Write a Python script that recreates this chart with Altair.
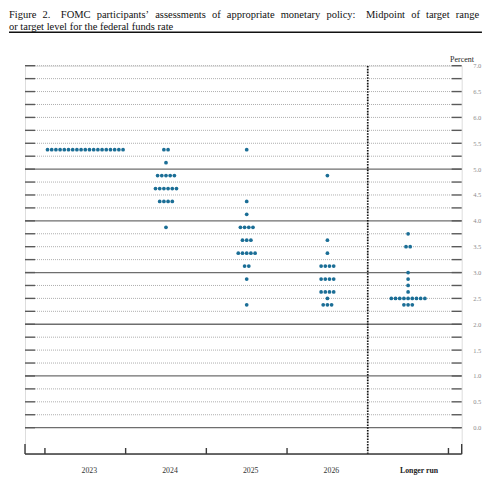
import altair as alt
import pandas as pd

# ---------------- data ----------------
years = ["2023", "2024", "2025", "2026", "Longer run"]

levels_2023 = [5.375]
counts_2023 = [19]

levels_2024 = [5.375, 5.125, 4.875, 4.625, 4.375, 3.875]
counts_2024 = [2, 1, 5, 6, 4, 1]

levels_2025 = [5.375, 4.375, 4.125, 3.875, 3.625, 3.375, 3.125, 2.875, 2.375]
counts_2025 = [1, 1, 1, 4, 3, 5, 2, 1, 1]

levels_2026 = [4.875, 3.625, 3.375, 3.125, 2.875, 2.625, 2.5, 2.375]
counts_2026 = [1, 1, 1, 4, 4, 4, 1, 3]

levels_lr = [3.75, 3.5, 3.0, 2.875, 2.75, 2.625, 2.5, 2.375]
counts_lr = [1, 2, 1, 1, 1, 1, 9, 3]

axis_labels = [0.0, 0.5, 1.0, 1.5, 2.0, 2.5, 3.0, 3.5, 4.0, 4.5, 5.0, 5.5, 6.0, 6.5, 7.0]
grid_levels = [i * 0.25 for i in range(29)]
solid_levels = [0, 1, 2, 3, 4, 5]

# first title line is justified in the original: widen the word gaps
_gap = "\u2002\u200a"
_big = "\u2003"
title_line1 = _gap.join(["Figure", "2."]) + _big + _gap.join(
    ["FOMC", "participants\u2019", "assessments", "of", "appropriate", "monetary", "policy:"]
) + _big + _gap.join(["Midpoint", "of", "target", "range"])
title_lines = [title_line1, "or target level for the federal funds rate"]

# ---------------- layout constants ----------------
X_MIN, X_MAX = -0.747, 4.664          # plot edges in column units
DASH_IN_L, DASH_IN_R = -0.623, 4.540  # end of short edge dashes
Y_MIN, Y_MAX = -0.509, 7.0
DOT_STEP = 0.052                       # horizontal spacing between dots (column units)
DOT_COLOR = "#1b6e96"
SERIF = "Liberation Serif"

# ---------------- tables ----------------
cols = [
    (levels_2023, counts_2023),
    (levels_2024, counts_2024),
    (levels_2025, counts_2025),
    (levels_2026, counts_2026),
    (levels_lr, counts_lr),
]
dots = []
for ci, (lv, cn) in enumerate(cols):
    for level, n in zip(lv, cn):
        for k in range(n):
            dots.append({"x": ci + (k - (n - 1) / 2) * DOT_STEP, "y": level, "year": years[ci]})
dots_df = pd.DataFrame(dots)

dotted_df = pd.DataFrame({"y": [g for g in grid_levels if g not in solid_levels],
                          "x": DASH_IN_L, "x2": DASH_IN_R})
solid_df = pd.DataFrame({"y": solid_levels, "x": X_MIN, "x2": X_MAX})
edge_df = pd.DataFrame(
    [{"y": g, "x": X_MIN, "x2": DASH_IN_L} for g in grid_levels]
    + [{"y": g, "x": DASH_IN_R, "x2": X_MAX} for g in grid_levels]
)
divider_df = pd.DataFrame({"x": [3.5], "y": [Y_MIN], "y2": [Y_MAX]})
base_df = pd.DataFrame({"x": [X_MIN], "x2": [X_MAX], "y": [Y_MIN]})
tick_df = pd.DataFrame({
    "x": [X_MIN, -0.5, 0.5, 1.5, 2.5, 4.5, X_MAX],
    "y": [Y_MIN] * 7,
    "y2": [Y_MIN + 0.193, Y_MIN + 0.116, Y_MIN + 0.116, Y_MIN + 0.116,
           Y_MIN + 0.116, Y_MIN + 0.116, Y_MIN + 0.193],
})
year_df = pd.DataFrame({"x": [0, 1, 2, 3], "y": [-0.832] * 4, "label": years[:4]})
lr_df = pd.DataFrame({"x": [4], "y": [-0.832], "label": [years[4]]})
percent_df = pd.DataFrame({"x": [4.817], "y": [7.077], "label": ["Percent"]})
title_rule_df = pd.DataFrame({"x": [-0.945], "x2": [4.915], "y": [7.645]})

# ---------------- encodings ----------------
xscale = alt.Scale(domain=[X_MIN, X_MAX], nice=False, zero=False)
yscale = alt.Scale(domain=[Y_MIN, Y_MAX], nice=False, zero=False)
yaxis = alt.Axis(orient="right", values=axis_labels, format=".1f", title=None,
                 ticks=False, domain=False, grid=False, labelPadding=11,
                 labelFont=SERIF, labelFontSize=6.5, labelColor="#8c8c8c")


def X(f="x"):
    return alt.X(f + ":Q", scale=xscale, axis=None)


def Y(f="y"):
    return alt.Y(f + ":Q", scale=yscale, axis=yaxis)


dotted = alt.Chart(dotted_df).mark_rule(color="#9a9a9a", strokeWidth=0.8, strokeDash=[1, 1]).encode(
    x=X(), x2="x2", y=Y())
solid = alt.Chart(solid_df).mark_rule(color="#6e6e6e", strokeWidth=1.3).encode(
    x=X(), x2="x2", y=Y())
edges = alt.Chart(edge_df).mark_rule(color="#5a5a5a", strokeWidth=1.4).encode(
    x=X(), x2="x2", y=Y())
divider = alt.Chart(divider_df).mark_rule(color="#111111", strokeWidth=1.7, strokeDash=[1.6, 1.2]).encode(
    x=X(), y=Y(), y2="y2")
baseline = alt.Chart(base_df).mark_rule(color="#3a3a3a", strokeWidth=1.6).encode(
    x=X(), x2="x2", y=Y())
ticks = alt.Chart(tick_df).mark_rule(color="#3a3a3a", strokeWidth=1.4).encode(
    x=X(), y=Y(), y2="y2")
points = alt.Chart(dots_df).mark_circle(size=14, opacity=1, color=DOT_COLOR).encode(
    x=X(), y=Y())
year_text = alt.Chart(year_df).mark_text(font=SERIF, fontSize=7.8, color="#333333", dx=4,
                                         baseline="middle").encode(x=X(), y=Y(), text="label:N")
lr_text = alt.Chart(lr_df).mark_text(font=SERIF, fontSize=7.8, fontWeight="bold", color="#222222",
                                     dx=11, baseline="middle").encode(x=X(), y=Y(), text="label:N")
percent_text = alt.Chart(percent_df).mark_text(font=SERIF, fontSize=8, color="#222222",
                                               align="right", baseline="alphabetic").encode(
    x=X(), y=Y(), text="label:N")
title_rule = alt.Chart(title_rule_df).mark_rule(color="#111111", strokeWidth=1.5).encode(
    x=X(), x2="x2", y=Y())

chart = alt.layer(
    dotted, solid, edges, divider, baseline, ticks, points,
    year_text, lr_text, percent_text, title_rule,
).properties(
    width=436.7,
    height=388.3,
    autosize=alt.AutoSizeParams(type="none"),
    padding={"left": 17, "top": 57.7, "right": 30, "bottom": 22},
    title=alt.TitleParams(
        text=title_lines, anchor="start", frame="group", font=SERIF, fontSize=10.5,
        fontWeight="normal", color="#111111", lineHeight=12.5, offset=-1, dx=-16,
    ),
).configure_view(stroke=None).configure(background="white")

chart.save("out.html", embed_options={"renderer": "svg", "actions": False})
